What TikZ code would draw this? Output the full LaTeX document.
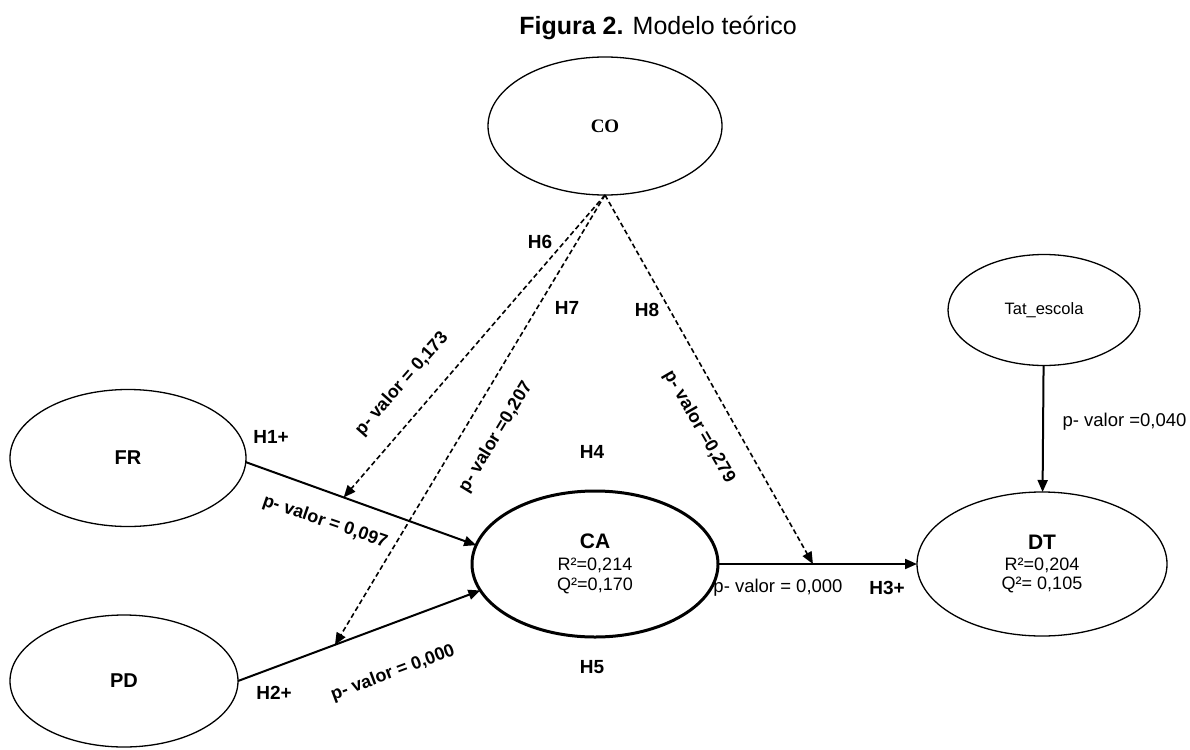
\documentclass[tikz,border=0pt]{standalone}
\usepackage{fontspec}
\setmainfont{Liberation Sans}
\newfontfamily\coserif{Liberation Serif}
\usetikzlibrary{positioning, shapes.geometric, arrows.meta}

\begin{document}
\begin{tikzpicture}[x=1pt, y=-1pt,
        construto/.style={ellipse, draw, line width=1.3pt, outer sep=0pt, inner sep=0pt, align=center},
        seta/.style={-{Triangle[length=12pt, width=10pt]}, line width=2pt},
        moder/.style={-{Triangle[length=12pt, width=10pt]}, line width=1.6pt, dash pattern=on 5pt off 3pt},
        hip/.style={font=\bfseries\fontsize{19}{19}\selectfont},
        pval/.style={font=\bfseries\fontsize{18}{18}\selectfont},
        pvaln/.style={font=\fontsize{18.5}{18.5}\selectfont}]
        \useasboundingbox (0,0) rectangle (1190,749);

        \node (tit) at (658,28) {\fontsize{25}{25}\selectfont\textbf{Figura 2.} Modelo teórico};

        \node[construto, minimum width=234pt, minimum height=138pt] (CO) at (605,126) {\coserif\bfseries\fontsize{19}{19}\selectfont CO};
        \node[construto, minimum width=236pt, minimum height=137pt] (FR) at (128,458) {\bfseries\fontsize{20}{20}\selectfont FR};
        \node[construto, minimum width=228pt, minimum height=132pt] (PD) at (124,681) {\bfseries\fontsize{20}{20}\selectfont PD};
        \node[construto, line width=3pt, minimum width=246pt, minimum height=146pt, font=\fontsize{18}{20}\selectfont] (CA) at (595,564) {{\bfseries\fontsize{21}{21}\selectfont CA}\\[2pt] R²=0,214\\ Q²=0,170};
        \node[construto, minimum width=250pt, minimum height=144pt, font=\fontsize{18}{19}\selectfont] (DT) at (1042,564) {{\bfseries\fontsize{21}{21}\selectfont DT}\\[2pt] R²=0,204\\ Q²= 0,105};
        \node[construto, minimum width=192pt, minimum height=111pt, font=\fontsize{16.5}{16.5}\selectfont] (Tat) at (1044,310) {Tat\_escola};

        \draw[seta] (FR.-2) -- coordinate[pos=0.425] (m1) (CA.171);
        \draw[seta] (PD.east) -- coordinate[pos=0.40] (m2) (CA.193);
        \draw[seta] (CA.east) -- coordinate[pos=0.477] (m3) (DT.west);
        \draw[seta] (Tat) -- (DT);
        \draw[moder] (CO.south) -- (m1);
        \draw[moder] (CO.south) -- (m2);
        \draw[moder] (CO.south) -- (m3);

        % hipoteses
        \node[hip] (h1) at (271,437) {H1+};
        \node[hip] (h2) at (274,693) {H2+};
        \node[hip] (h3) at (887,588) {H3+};
        \node[hip] (h4) at (592,452) {H4};
        \node[hip] (h5) at (592,667) {H5};
        \node[hip] (h6) at (540,242) {H6};
        \node[hip] (h7) at (567,308) {H7};
        \node[hip] (h8) at (647,310) {H8};

        % p-valores
        \node[pval, rotate=-19] (p1) at (325,522) {p- valor = 0,097};
        \node[pval, rotate=20.5] (p2) at (393,673) {p- valor = 0,000};
        \node[pvaln] (p3) at (778,588) {p- valor = 0,000};
        \node[pvaln, anchor=west] (p4) at (1059,422) {p- valor =0,040};
        \node[pval, rotate=48.6] (p6) at (402,384) {p- valor = 0,173};
        \node[pval, rotate=58.7] (p7) at (496,437) {p- valor =0,207};
        \node[pval, rotate=-60] (p8) at (699,427) {p- valor =0,279};
\end{tikzpicture}
\end{document}
